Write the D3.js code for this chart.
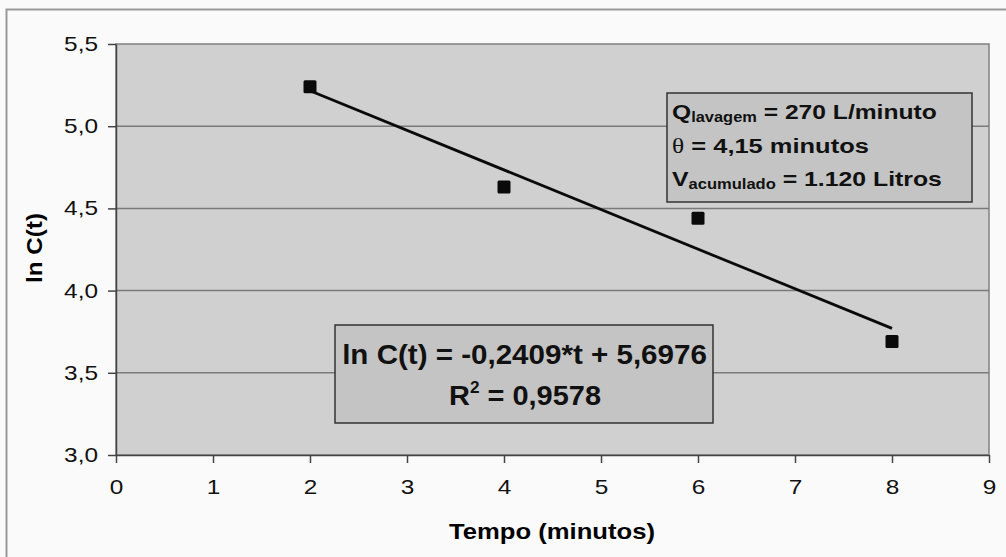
<!DOCTYPE html>
<html>
<head>
<meta charset="utf-8">
<script src="https://cdn.jsdelivr.net/npm/d3@7"></script>
<style>
  body { margin: 0; background: #fafafa; }
  svg { display: block; font-family: "Liberation Sans", Arial, sans-serif; }
</style>
</head>
<body>
<svg id="chart" width="1006" height="557"></svg>
<script>
// data
var tempo = [2, 4, 6, 8];
var lnC = [5.24, 4.63, 4.44, 3.69];
var slope = -0.2409, intercept = 5.6976;
var xTicks = [0, 1, 2, 3, 4, 5, 6, 7, 8, 9];
var yTicks = [3.0, 3.5, 4.0, 4.5, 5.0, 5.5];

var svg = d3.select("#chart");
var pLeft = 116, pRight = 989, pTop = 44, pBottom = 455;
var stretch = 1.22; // the original text is wide, widen it horizontally

var x = d3.scaleLinear().domain([0, 9]).range([pLeft, pRight]);
var y = d3.scaleLinear().domain([3, 5.5]).range([pBottom, pTop]);
var fmt = function (d) { return d.toFixed(1).replace(".", ","); };

// stretch a text horizontally so it spans w pixels, starting / centred at (px, py)
function fit(g, px, py, w) {
    var b = g.node().getBBox();
    var s = w / b.width;
    g.attr("transform", "translate(" + px + "," + py + ") scale(" + s + ",1)");
}

// outer chart frame
svg.append("rect")
    .attr("x", 6.5).attr("y", 9.5).attr("width", 1010).attr("height", 560)
    .attr("fill", "#fafafa").attr("stroke", "#999").attr("stroke-width", 2);

// plot area
svg.append("rect")
    .attr("x", pLeft).attr("y", pTop).attr("width", pRight - pLeft).attr("height", pBottom - pTop)
    .attr("fill", "#d0d0d0").attr("stroke", "#808080").attr("stroke-width", 1.5);

// gridlines
svg.append("g").selectAll("line")
    .data(yTicks.slice(1, -1))
    .enter().append("line")
    .attr("x1", pLeft).attr("x2", pRight)
    .attr("y1", function (d) { return y(d); })
    .attr("y2", function (d) { return y(d); })
    .attr("stroke", "#7a7a7a").attr("stroke-width", 1.5);

// axes
var xAxis = svg.append("g")
    .attr("transform", "translate(0," + pBottom + ")")
    .call(d3.axisBottom(x).tickValues(xTicks).tickSize(8).tickPadding(17).tickSizeOuter(0));
var yAxis = svg.append("g")
    .attr("transform", "translate(" + pLeft + ",0)")
    .call(d3.axisLeft(y).tickValues(yTicks).tickFormat(fmt).tickSize(8).tickPadding(10).tickSizeOuter(0));

[xAxis, yAxis].forEach(function (a) {
    a.select(".domain").attr("stroke", "#444").attr("stroke-width", 1.5);
    a.selectAll(".tick line").attr("stroke", "#444").attr("stroke-width", 1.5);
    a.selectAll(".tick text").attr("fill", "#111").style("font-size", "20px")
        .style("font-family", "'Liberation Sans', Arial, sans-serif")
        .attr("transform", "scale(" + stretch + ",1)");
});
yAxis.selectAll(".tick text").attr("x", -18 / stretch);

// trend line
svg.append("line")
    .attr("x1", x(2)).attr("y1", y(intercept + slope * 2))
    .attr("x2", x(8)).attr("y2", y(intercept + slope * 8))
    .attr("stroke", "#0a0a0a").attr("stroke-width", 2.8);

// markers
svg.append("g").selectAll("rect")
    .data(tempo)
    .enter().append("rect")
    .attr("x", function (d) { return x(d) - 6.5; })
    .attr("y", function (d, i) { return y(lnC[i]) - 6.5; })
    .attr("width", 13).attr("height", 13).attr("rx", 1.5)
    .attr("fill", "#0a0a0a");

// axis titles
var xt = svg.append("g");
xt.append("text").attr("text-anchor", "middle")
    .style("font-size", "22px").style("font-weight", "bold")
    .text("Tempo (minutos)");
fit(xt, 552, 539, 206);

var yt = svg.append("g");
yt.append("text").attr("text-anchor", "middle")
    .style("font-size", "22px").style("font-weight", "bold")
    .text("ln C(t)");
fit(yt, 0, 0, 70);
yt.attr("transform", "translate(42,248) rotate(-90) " + yt.attr("transform").replace("translate(0,0) ", ""));

// info box
svg.append("rect")
    .attr("x", 667).attr("y", 93).attr("width", 305).attr("height", 109)
    .attr("fill", "#c4c4c4").attr("stroke", "#333").attr("stroke-width", 1.5);

function infoLine(py, w, build) {
    var g = svg.append("g");
    var t = g.append("text").style("font-size", "21px").style("font-weight", "bold").attr("fill", "#111");
    build(t);
    fit(g, 672, py, w);
}
infoLine(119, 265, function (t) {
    t.append("tspan").text("Q");
    t.append("tspan").attr("dy", 3).style("font-size", "14px").text("lavagem");
    t.append("tspan").attr("dy", -3).text(" = 270 L/minuto");
});
infoLine(153, 197, function (t) {
    t.append("tspan").style("font-family", "'Liberation Serif', serif").style("font-weight", "normal").text("θ");
    t.append("tspan").text(" = 4,15 minutos");
});
infoLine(186, 270, function (t) {
    t.append("tspan").text("V");
    t.append("tspan").attr("dy", 3).style("font-size", "14px").text("acumulado");
    t.append("tspan").attr("dy", -3).text(" = 1.120 Litros");
});

// equation box
svg.append("rect")
    .attr("x", 335).attr("y", 325).attr("width", 378).attr("height", 98)
    .attr("fill", "#c4c4c4").attr("stroke", "#333").attr("stroke-width", 1.5);
var eq = svg.append("g");
eq.append("text").attr("text-anchor", "middle")
    .style("font-size", "27px").style("font-weight", "bold").attr("fill", "#111")
    .text("ln C(t) = -0,2409*t + 5,6976");
fit(eq, 524.5, 364, 365);

var r2g = svg.append("g");
var r2 = r2g.append("text").attr("text-anchor", "middle")
    .style("font-size", "27px").style("font-weight", "bold").attr("fill", "#111");
r2.append("tspan").text("R");
r2.append("tspan").attr("dy", -12).style("font-size", "16px").text("2");
r2.append("tspan").attr("dy", 12).text(" = 0,9578");
fit(r2g, 525, 405, 152);
</script>
</body>
</html>
